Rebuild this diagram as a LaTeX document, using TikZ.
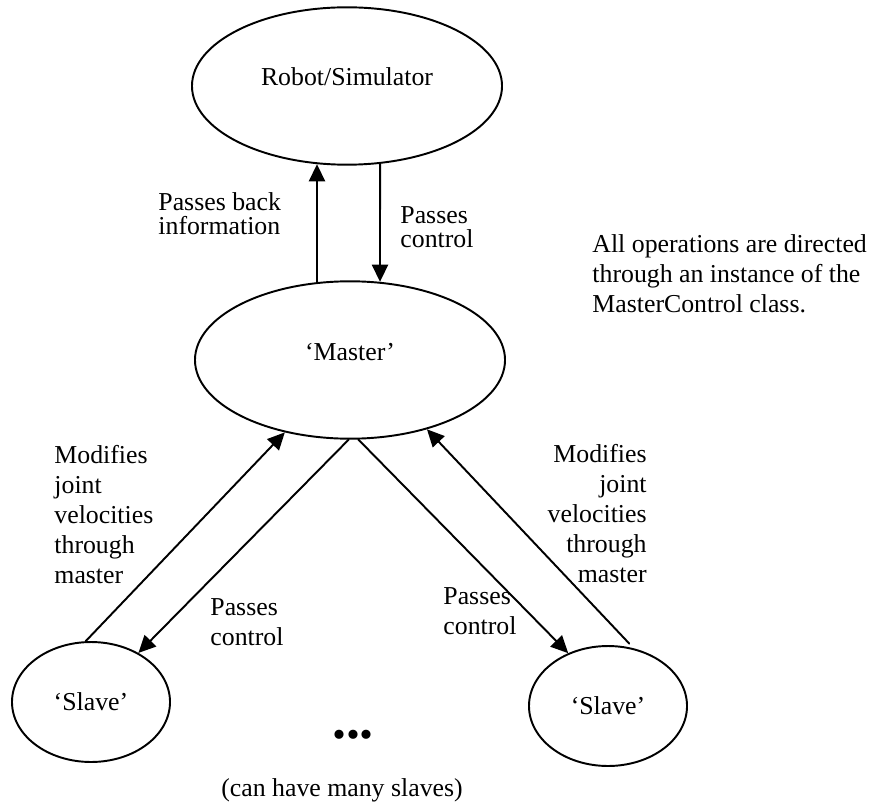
\documentclass[tikz,border=0pt]{standalone}
\usepackage{fontspec}
\setmainfont{Liberation Serif}
\usetikzlibrary{arrows.meta,shapes.geometric}

\tikzset{
	bubble/.style={draw,ellipse,line width=0.9pt,inner sep=0pt,font=\fontsize{12}{14}\selectfont},
	bigbubble/.style={bubble,minimum width=144.2pt,minimum height=73.2pt,text height=8.2pt,text depth=8.2pt},
	smallbubble/.style={bubble,minimum width=73.5pt,minimum height=55.8pt},
	note/.style={inner sep=0pt,align=left,font=\fontsize{12}{13.95}\selectfont},
	tightnote/.style={note,font=\fontsize{12}{11.2}\selectfont},
	link/.style={->,line width=0.9pt},
}

\begin{document}
\begin{tikzpicture}[line cap=round,line join=round,>={Triangle[length=8pt,width=7.5pt]},x=0.4651pt,y=-0.4651pt]
		\useasboundingbox (0,0) rectangle (872,803);
		% the four parts
		\node[bigbubble] (robot) at (347,86) {Robot/Simulator};
		\node[bigbubble] (master) at (350,360) {‘Master’};
		\node[smallbubble] (slaveL) at (91,702) {‘Slave’};
		\node[smallbubble] (slaveR) at (608,706) {‘Slave’};
		% master <-> robot
		\draw[link] (master.113) -- (robot.-111);
		\draw[link] (robot.-67) -- (master.69);
		% master <-> slaves
		\draw[link] (slaveL.95) -- (master.-132);
		\draw[link] (master.-91) -- (slaveL.46);
		\draw[link] (master.-84) -- (slaveR.127);
		\draw[link,shorten <=3pt] (slaveR.66) -- (master.-42);
		% labels
		\node[tightnote,anchor=north west] (infoLbl) at (158,192) {Passes back\\information};
		\node[tightnote,anchor=north west] (ctrlTop) at (400,206) {Passes\\control};
		\node[note,anchor=north west] (allOps) at (592,234) {All operations are directed\\through an instance of the\\MasterControl class.};
		\node[note,anchor=north west] (modL) at (54,445) {Modifies\\joint\\velocities\\through\\master};
		\node[note,anchor=north west] (ctrlL) at (210,598) {Passes\\control};
		\node[note,anchor=north west] (ctrlR) at (443,587) {Passes\\control};
		\node[note,align=right,anchor=north east] (modR) at (647,444) {Modifies\\joint\\velocities\\through\\master};
		\node[inner sep=0pt,font=\fontsize{26}{26}\selectfont\bfseries,anchor=base] (more) at (353,738) {...};
		\node[note,anchor=base] (many) at (342,796) {(can have many slaves)};
	\end{tikzpicture}
\end{document}
